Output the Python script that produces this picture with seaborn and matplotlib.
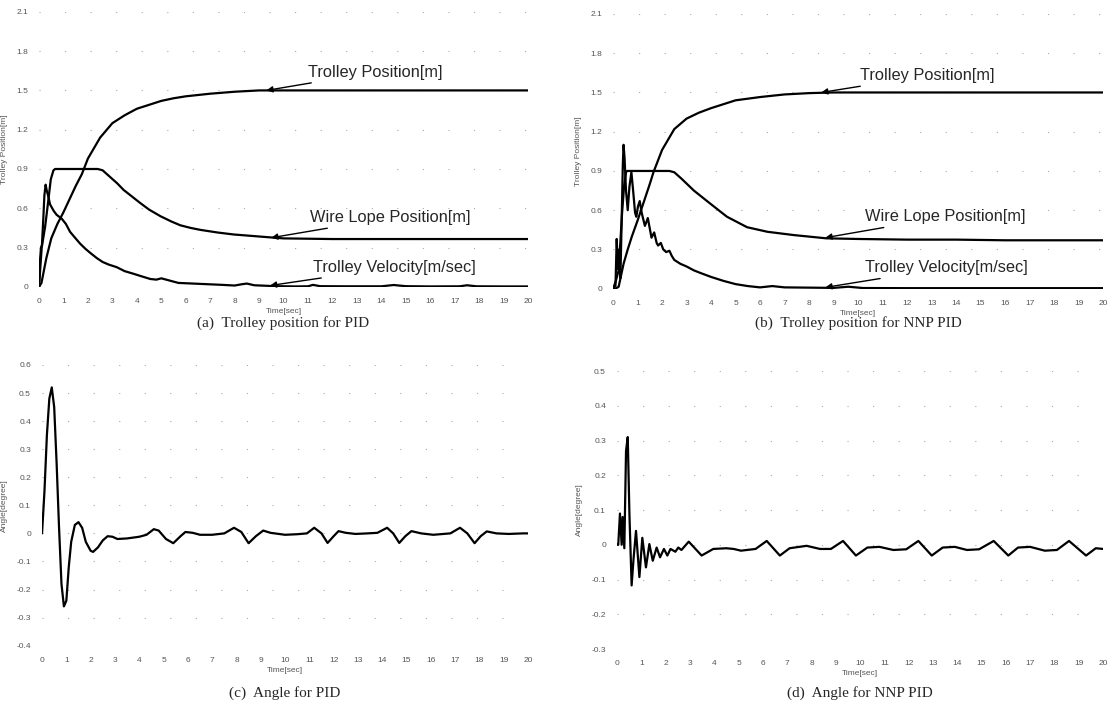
import pandas as pd
import seaborn as sns
import matplotlib.pyplot as plt

# (a) PID - trolley position / wire rope / velocity
pid_pos_t = [0, 0.1, 0.3, 0.5, 0.75, 1.0, 1.25, 1.5, 1.75, 2.0, 2.5, 3.0, 3.5, 4.0, 4.5,
             5.0, 5.5, 6.0, 7.0, 8.0, 9.0, 10, 12, 14, 16, 18, 20]
pid_pos = [0, 0.03, 0.22, 0.37, 0.48, 0.57, 0.67, 0.77, 0.86, 0.98, 1.14, 1.25, 1.31, 1.36,
           1.39, 1.42, 1.44, 1.455, 1.475, 1.49, 1.5, 1.5, 1.5, 1.5, 1.5, 1.5, 1.5]

pid_wire_t = [0, 0.05, 0.11, 0.25, 0.38, 0.48, 0.59, 0.66, 1.5, 2.4, 2.6, 2.9, 3.2, 3.46, 3.8,
              4.14, 4.5, 4.96, 5.4, 5.78, 6.2, 6.6, 7.3, 7.95, 9.3, 10, 12, 14, 16, 18, 20]
pid_wire = [0, 0.14, 0.3, 0.46, 0.66, 0.82, 0.89, 0.9, 0.9, 0.9, 0.89, 0.84, 0.79, 0.74, 0.69,
            0.64, 0.59, 0.54, 0.5, 0.47, 0.45, 0.435, 0.415, 0.4, 0.38, 0.37, 0.365, 0.365,
            0.365, 0.365, 0.365]

pid_vel_t = [0, 0.04, 0.08, 0.12, 0.17, 0.22, 0.27, 0.31, 0.38, 0.45, 0.6, 0.72, 0.93, 1.1,
             1.27, 1.45, 1.68, 1.9, 2.09, 2.36, 2.6, 2.85, 3.18, 3.5, 3.86, 4.2, 4.55, 4.8,
             5.0, 5.3, 5.7, 6.3, 6.9, 7.5, 8.0, 8.3, 8.5, 8.8, 9.7, 10.5, 11.0, 11.2, 11.5,
             12.5, 14.0, 14.5, 15.0, 16.0, 17.2, 17.5, 17.9, 19, 20]
pid_vel = [0, 0.2, 0.3, 0.32, 0.5, 0.7, 0.78, 0.74, 0.69, 0.63, 0.58, 0.55, 0.52, 0.48,
           0.42, 0.38, 0.33, 0.29, 0.26, 0.22, 0.19, 0.17, 0.15, 0.12, 0.1, 0.08, 0.06, 0.055,
           0.065, 0.05, 0.03, 0.025, 0.02, 0.015, 0.01, 0.02, 0.025, 0.012, 0.005, 0.003,
           0.004, 0.015, 0.005, 0.004, 0.004, 0.014, 0.005, 0.003, 0.004, 0.012, 0.004, 0.003,
           0.003]

# (b) NNP PID - trolley position / wire rope / velocity
nnp_pos_t = [0, 0.1, 0.23, 0.43, 0.6, 0.77, 1.0, 1.25, 1.5, 1.65, 2.0, 2.5, 3.0, 3.5, 4.0,
             4.5, 5.0, 6.0, 7.0, 8.0, 9.0, 10, 12, 14, 16, 18, 20]
nnp_pos = [0, 0.0, 0.015, 0.19, 0.3, 0.4, 0.52, 0.66, 0.8, 0.89, 1.06, 1.22, 1.3, 1.345, 1.38,
           1.41, 1.44, 1.465, 1.485, 1.495, 1.5, 1.5, 1.5, 1.5, 1.5, 1.5, 1.5]

nnp_wire_t = [0, 0.1, 0.23, 0.37, 0.45, 0.53, 0.57, 1.5, 2.3, 2.5, 2.8, 3.3, 3.97, 4.65, 5.47,
              6.3, 7.37, 8.7, 10, 12, 14, 16, 18, 20]
nnp_wire = [0, 0.05, 0.14, 0.58, 0.78, 0.89, 0.9, 0.9, 0.9, 0.89, 0.84, 0.75, 0.65, 0.55, 0.47,
            0.435, 0.41, 0.385, 0.38, 0.375, 0.375, 0.37, 0.37, 0.37]

nnp_vel_t = [0, 0.1, 0.15, 0.2, 0.25, 0.3, 0.35, 0.4, 0.43, 0.47, 0.53, 0.6, 0.67, 0.75, 0.82,
             0.9, 0.95, 1.02, 1.09, 1.17, 1.3, 1.42, 1.5, 1.57, 1.68, 1.78, 1.84, 1.95, 2.05,
             2.17, 2.3, 2.4, 2.5, 2.75, 3.0, 3.3, 3.57, 4.0, 4.5, 5.0, 5.5, 6.0, 6.5, 7.0, 8.0,
             9.0, 9.6, 10.2, 12, 14, 16, 18, 20]
nnp_vel = [0, 0.02, 0.38, 0.15, 0.3, 0.08, 0.5, 0.95, 1.1, 1.0, 0.75, 0.6, 0.78, 0.89, 0.75,
           0.58, 0.55, 0.63, 0.67, 0.58, 0.48, 0.54, 0.46, 0.39, 0.43, 0.35, 0.33, 0.35, 0.3,
           0.28, 0.29, 0.25, 0.22, 0.19, 0.17, 0.14, 0.12, 0.09, 0.06, 0.035, 0.02, 0.01, 0.02,
           0.01, 0.008, 0.006, 0.015, 0.005, 0.004, 0.004, 0.004, 0.004, 0.004]

# (c) PID - swing angle
pid_ang_t = [0, 0.1, 0.2, 0.3, 0.4, 0.5, 0.6, 0.7, 0.8, 0.9, 1.0, 1.1, 1.2, 1.35, 1.5, 1.65,
             1.8, 2.0, 2.1, 2.3, 2.5, 2.7, 2.9, 3.1, 3.5, 4.0, 4.3, 4.6, 4.8, 5.1, 5.4, 5.7,
             5.9, 6.2, 6.5, 7.0, 7.5, 7.9, 8.2, 8.5, 8.8, 9.1, 9.4, 10.0, 10.5, 10.9, 11.2,
             11.5, 11.75, 12.0, 12.2, 12.5, 12.9, 13.4, 13.8, 14.2, 14.45, 14.7, 14.95, 15.2,
             15.6, 16.1, 16.8, 17.2, 17.5, 17.8, 18.05, 18.3, 18.7, 19.2, 19.8, 20.0]
pid_ang = [0, 0.15, 0.35, 0.48, 0.52, 0.45, 0.25, 0.02, -0.18, -0.26, -0.24, -0.12, -0.03,
           0.03, 0.04, 0.02, -0.03, -0.062, -0.066, -0.05, -0.025, -0.01, -0.012, -0.02,
           -0.018, -0.012, -0.005, 0.015, 0.01, -0.02, -0.035, -0.01, 0.005, 0.002, -0.005,
           -0.005, 0.0, 0.02, 0.005, -0.035, -0.01, 0.01, 0.002, -0.005, -0.003, 0.0, 0.02,
           0.0, -0.034, -0.01, 0.008, 0.002, -0.002, 0.0, 0.002, 0.02, 0.0, -0.034, -0.01,
           0.008, 0.0, -0.005, 0.0, 0.02, 0.0, -0.035, -0.01, 0.007, 0.0, -0.002, 0.0, 0.0]

# (d) NNP PID - swing angle
nnp_ang_t = [0, 0.05, 0.12, 0.19, 0.23, 0.3, 0.37, 0.44, 0.51, 0.6, 0.68, 0.78, 0.92, 1.04,
             1.19, 1.33, 1.47, 1.63, 1.77, 1.93, 2.07, 2.2, 2.4, 2.52, 2.65, 2.95, 3.48, 3.96,
             4.5, 4.8, 5.1, 5.7, 6.16, 6.7, 7.1, 7.8, 8.35, 8.8, 9.3, 9.83, 10.3, 10.8, 11.37,
             11.9, 12.4, 12.95, 13.4, 13.9, 14.4, 14.9, 15.5, 16.1, 16.5, 17.0, 17.6, 18.1,
             18.6, 19.3, 19.7, 20.0]
nnp_ang = [0, 0.0, 0.09, 0.0, 0.08, -0.01, 0.27, 0.31, 0.087, -0.117, -0.04, 0.04, -0.093,
           0.02, -0.065, 0.002, -0.046, -0.008, -0.036, -0.012, -0.031, -0.012, -0.02, -0.008,
           -0.015, 0.009, -0.031, -0.012, -0.01, -0.012, -0.017, -0.012, 0.011, -0.031, -0.01,
           -0.003, -0.012, -0.012, 0.011, -0.031, -0.008, -0.006, -0.015, -0.013, 0.011,
           -0.031, -0.008, -0.006, -0.015, -0.013, 0.011, -0.031, -0.008, -0.006, -0.017,
           -0.015, 0.011, -0.031, -0.01, -0.012]

time_ticks = list(range(0, 21))
pos_ticks = [0, 0.3, 0.6, 0.9, 1.2, 1.5, 1.8, 2.1]
pid_ang_ticks = [-0.4, -0.3, -0.2, -0.1, 0, 0.1, 0.2, 0.3, 0.4, 0.5, 0.6]
nnp_ang_ticks = [-0.3, -0.2, -0.1, 0, 0.1, 0.2, 0.3, 0.4, 0.5]

captions = ["(a)  Trolley position for PID", "(b)  Trolley position for NNP PID",
            "(c)  Angle for PID", "(d)  Angle for NNP PID"]

sns.set_style("white")
plt.rcParams["font.family"] = ["Liberation Sans", "DejaVu Sans"]

fig = plt.figure(figsize=(11.15, 7.10), dpi=100)
ax_a = fig.add_axes([0.035, 0.596, 0.4386, 0.3873])
ax_b = fig.add_axes([0.5498, 0.5934, 0.4395, 0.3869])
ax_c = fig.add_axes([0.0377, 0.0906, 0.4359, 0.3954])
ax_d = fig.add_axes([0.5534, 0.0859, 0.4359, 0.3915])


def draw(ax, t, v):
    df = pd.DataFrame({"t": t, "v": v})
    sns.lineplot(data=df, x="t", y="v", ax=ax, color="black", lw=1.6,
                 estimator=None, sort=False)


def style(ax, yticks, ylabel, caption, cap_drop):
    ax.set_xlim(0, 20)
    ax.set_ylim(yticks[0], yticks[-1])
    ax.set_xticks(time_ticks)
    ax.set_yticks(yticks)
    ax.set_yticklabels([f"{y:g}" for y in yticks])
    ax.tick_params(length=0, labelsize=6, colors="#555555", pad=8)
    for s in ax.spines.values():
        s.set_visible(False)
    ax.yaxis.grid(True, color="#aaaaaa", lw=0.8, linestyle=(0, (1, 22)))
    ax.set_xlabel("Time[sec]", fontsize=6, color="#555555", labelpad=2)
    ax.set_ylabel(ylabel, fontsize=6, color="#555555", labelpad=6)
    # caption placed a fixed number of points below the axes bottom
    ax.annotate(caption, xy=(0.5, 0), xycoords="axes fraction",
                xytext=(0, -cap_drop), textcoords="offset points",
                ha="center", va="center", fontsize=11, family="Liberation Serif")


def note(ax, label, tip, txt):
    ax.annotate(label, xy=tip, xytext=txt, ha="left", va="center", fontsize=11.8,
                arrowprops=dict(arrowstyle="-|>", color="black", lw=1.0,
                                shrinkA=0, shrinkB=0, mutation_scale=9))


draw(ax_a, pid_pos_t, pid_pos)
draw(ax_a, pid_wire_t, pid_wire)
draw(ax_a, pid_vel_t, pid_vel)
style(ax_a, pos_ticks, "Trolley Position[m]", captions[0], 26)
note(ax_a, "Trolley Position[m]", (9.3, 1.5), (11.0, 1.64))
note(ax_a, "Wire Lope Position[m]", (9.5, 0.375), (11.1, 0.53))
note(ax_a, "Trolley Velocity[m/sec]", (9.45, 0.01), (11.2, 0.15))

draw(ax_b, nnp_pos_t, nnp_pos)
draw(ax_b, nnp_wire_t, nnp_wire)
draw(ax_b, nnp_vel_t, nnp_vel)
style(ax_b, pos_ticks, "Trolley Position[m]", captions[1], 25)
note(ax_b, "Trolley Position[m]", (8.5, 1.5), (10.1, 1.63))
note(ax_b, "Wire Lope Position[m]", (8.67, 0.39), (10.3, 0.55))
note(ax_b, "Trolley Velocity[m/sec]", (8.67, 0.01), (10.3, 0.16))

draw(ax_c, pid_ang_t, pid_ang)
style(ax_c, pid_ang_ticks, "Angle[degree]", captions[2], 34)

draw(ax_d, nnp_ang_t, nnp_ang)
style(ax_d, nnp_ang_ticks, "Angle[degree]", captions[3], 32)

fig.savefig("out.png", dpi=100, facecolor="white")
